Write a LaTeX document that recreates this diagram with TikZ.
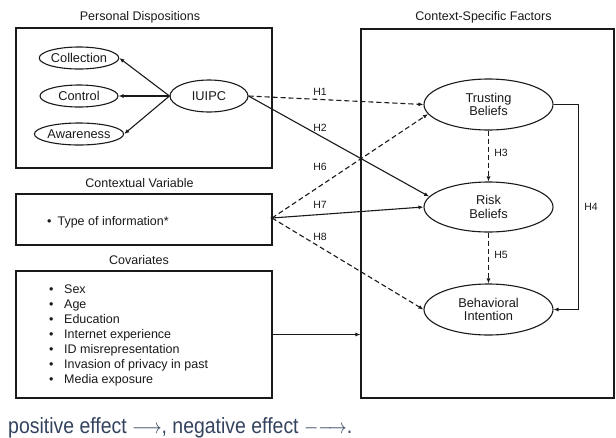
\documentclass[tikz,border=0pt]{standalone}
\usepackage{fontspec}
\setmainfont{Liberation Sans}
\usepackage{graphicx}
\usetikzlibrary{arrows.meta,shapes.geometric}
\definecolor{ink}{HTML}{1A1A1A}
\definecolor{legendblue}{HTML}{34435F}
\begin{document}
\begin{tikzpicture}[x=1pt,y=-1pt,
  every node/.style={text=ink},
  lbl/.style={font=\fontsize{12.5}{14}\selectfont, inner sep=0pt},
  hlbl/.style={font=\fontsize{10.5}{12}\selectfont, inner sep=0pt},
  panel/.style={draw=ink, line width=1.1pt, inner sep=0pt},
  construct/.style={draw=ink, line width=1.1pt, ellipse, inner sep=0pt, align=center,
    font=\fontsize{12.8}{13.7}\selectfont},
  link/.style={draw=ink, line width=1.1pt, -{Latex[length=5pt,width=4pt]}},
  neg/.style={link, dash pattern=on 5pt off 3pt},
]
\useasboundingbox (0,0) rectangle (616,437);
\fill[white] (0,0) rectangle (616,437);

% panels
\node[panel, minimum width=256pt, minimum height=140pt] (pd) at (144,98) {};
\node[panel, minimum width=256pt, minimum height=51pt] (cv) at (144,219.5) {};
\node[panel, minimum width=256pt, minimum height=127pt] (cov) at (144,334.5) {};
\node[panel, minimum width=253pt, minimum height=369pt] (csf) at (487.5,213.5) {};

% panel titles
\node[lbl] (tpd) at (140,17) {Personal Dispositions};
\node[lbl] (tcsf) at (483.5,17) {Context-Specific Factors};
\node[lbl] (tcv) at (139.5,183) {Contextual Variable};
\node[lbl] (tcov) at (139,260) {Covariates};

% personal dispositions
\node[construct, minimum width=78pt, minimum height=22pt] (col) at (79,58) {Collection};
\node[construct, minimum width=78pt, minimum height=22pt] (con) at (79,96) {Control};
\node[construct, minimum width=78pt, minimum height=22pt] (awa) at (79,134) {Awareness};
\node[construct, minimum width=78pt, minimum height=32pt] (iu) at (209,96) {IUIPC};
\draw[link] (iu.west) -- (col.east);
\draw[link] (iu.west) -- (con.east);
\draw[link] (iu.west) -- (awa.east);

% contextual variable
\node[lbl, anchor=west] (toi) at (47,222) {\textbullet\hspace{6pt}Type of information*};
\coordinate (cvout) at (272,218);
\fill[ink] (cvout) circle (1.6pt);

% covariates
\node[lbl, anchor=west, align=left, font=\fontsize{12.5}{15}\selectfont] (covlist) at (49,335)
  {\makebox[15pt][l]{\textbullet}Sex\\
   \makebox[15pt][l]{\textbullet}Age\\
   \makebox[15pt][l]{\textbullet}Education\\
   \makebox[15pt][l]{\textbullet}Internet experience\\
   \makebox[15pt][l]{\textbullet}ID misrepresentation\\
   \makebox[15pt][l]{\textbullet}Invasion of privacy in past\\
   \makebox[15pt][l]{\textbullet}Media exposure};

% context-specific factors
\node[construct, minimum width=129pt, minimum height=51pt] (tb) at (488.5,104.5) {Trusting\\Beliefs};
\node[construct, minimum width=129pt, minimum height=50pt] (rb) at (488.5,207) {Risk\\Beliefs};
\node[construct, minimum width=129pt, minimum height=51pt] (bi) at (488.5,309.5) {Behavioral\\Intention};

% hypotheses
\draw[neg] (iu.east) -- (tb.180);
\draw[link] (iu.east) -- (rb.170);
\draw[neg] (cvout) -- (tb.189);
\draw[link] (cvout) -- (rb.west);
\draw[neg] (cvout) -- (bi.west);
\draw[neg] (tb.south) -- (rb.north);
\draw[neg] (rb.south) -- (bi.north);
\draw[link] (tb.east) -- ++(25,0) |- (bi.east);
\draw[link] (cov.east) -- (cov.east -| csf.west);

\node[hlbl] (h1) at (320,92) {H1};
\node[hlbl] (h2) at (320,128) {H2};
\node[hlbl] (h6) at (320,167) {H6};
\node[hlbl] (h7) at (320,205) {H7};
\node[hlbl] (h8) at (320,237) {H8};
\node[hlbl] (h3) at (501,153) {H3};
\node[hlbl] (h5) at (501,255) {H5};
\node[hlbl] (h4) at (591,207) {H4};

% legend
\node[anchor=base west, inner sep=0pt, text=legendblue, font=\fontsize{22}{24}\selectfont] (legend) at (8,433)
  {\resizebox{344pt}{\height}{positive effect $\longrightarrow$, negative effect
   $\mathord{-}\mathord{-}\!\!\!\rightarrow$.}};
\end{tikzpicture}
\end{document}
